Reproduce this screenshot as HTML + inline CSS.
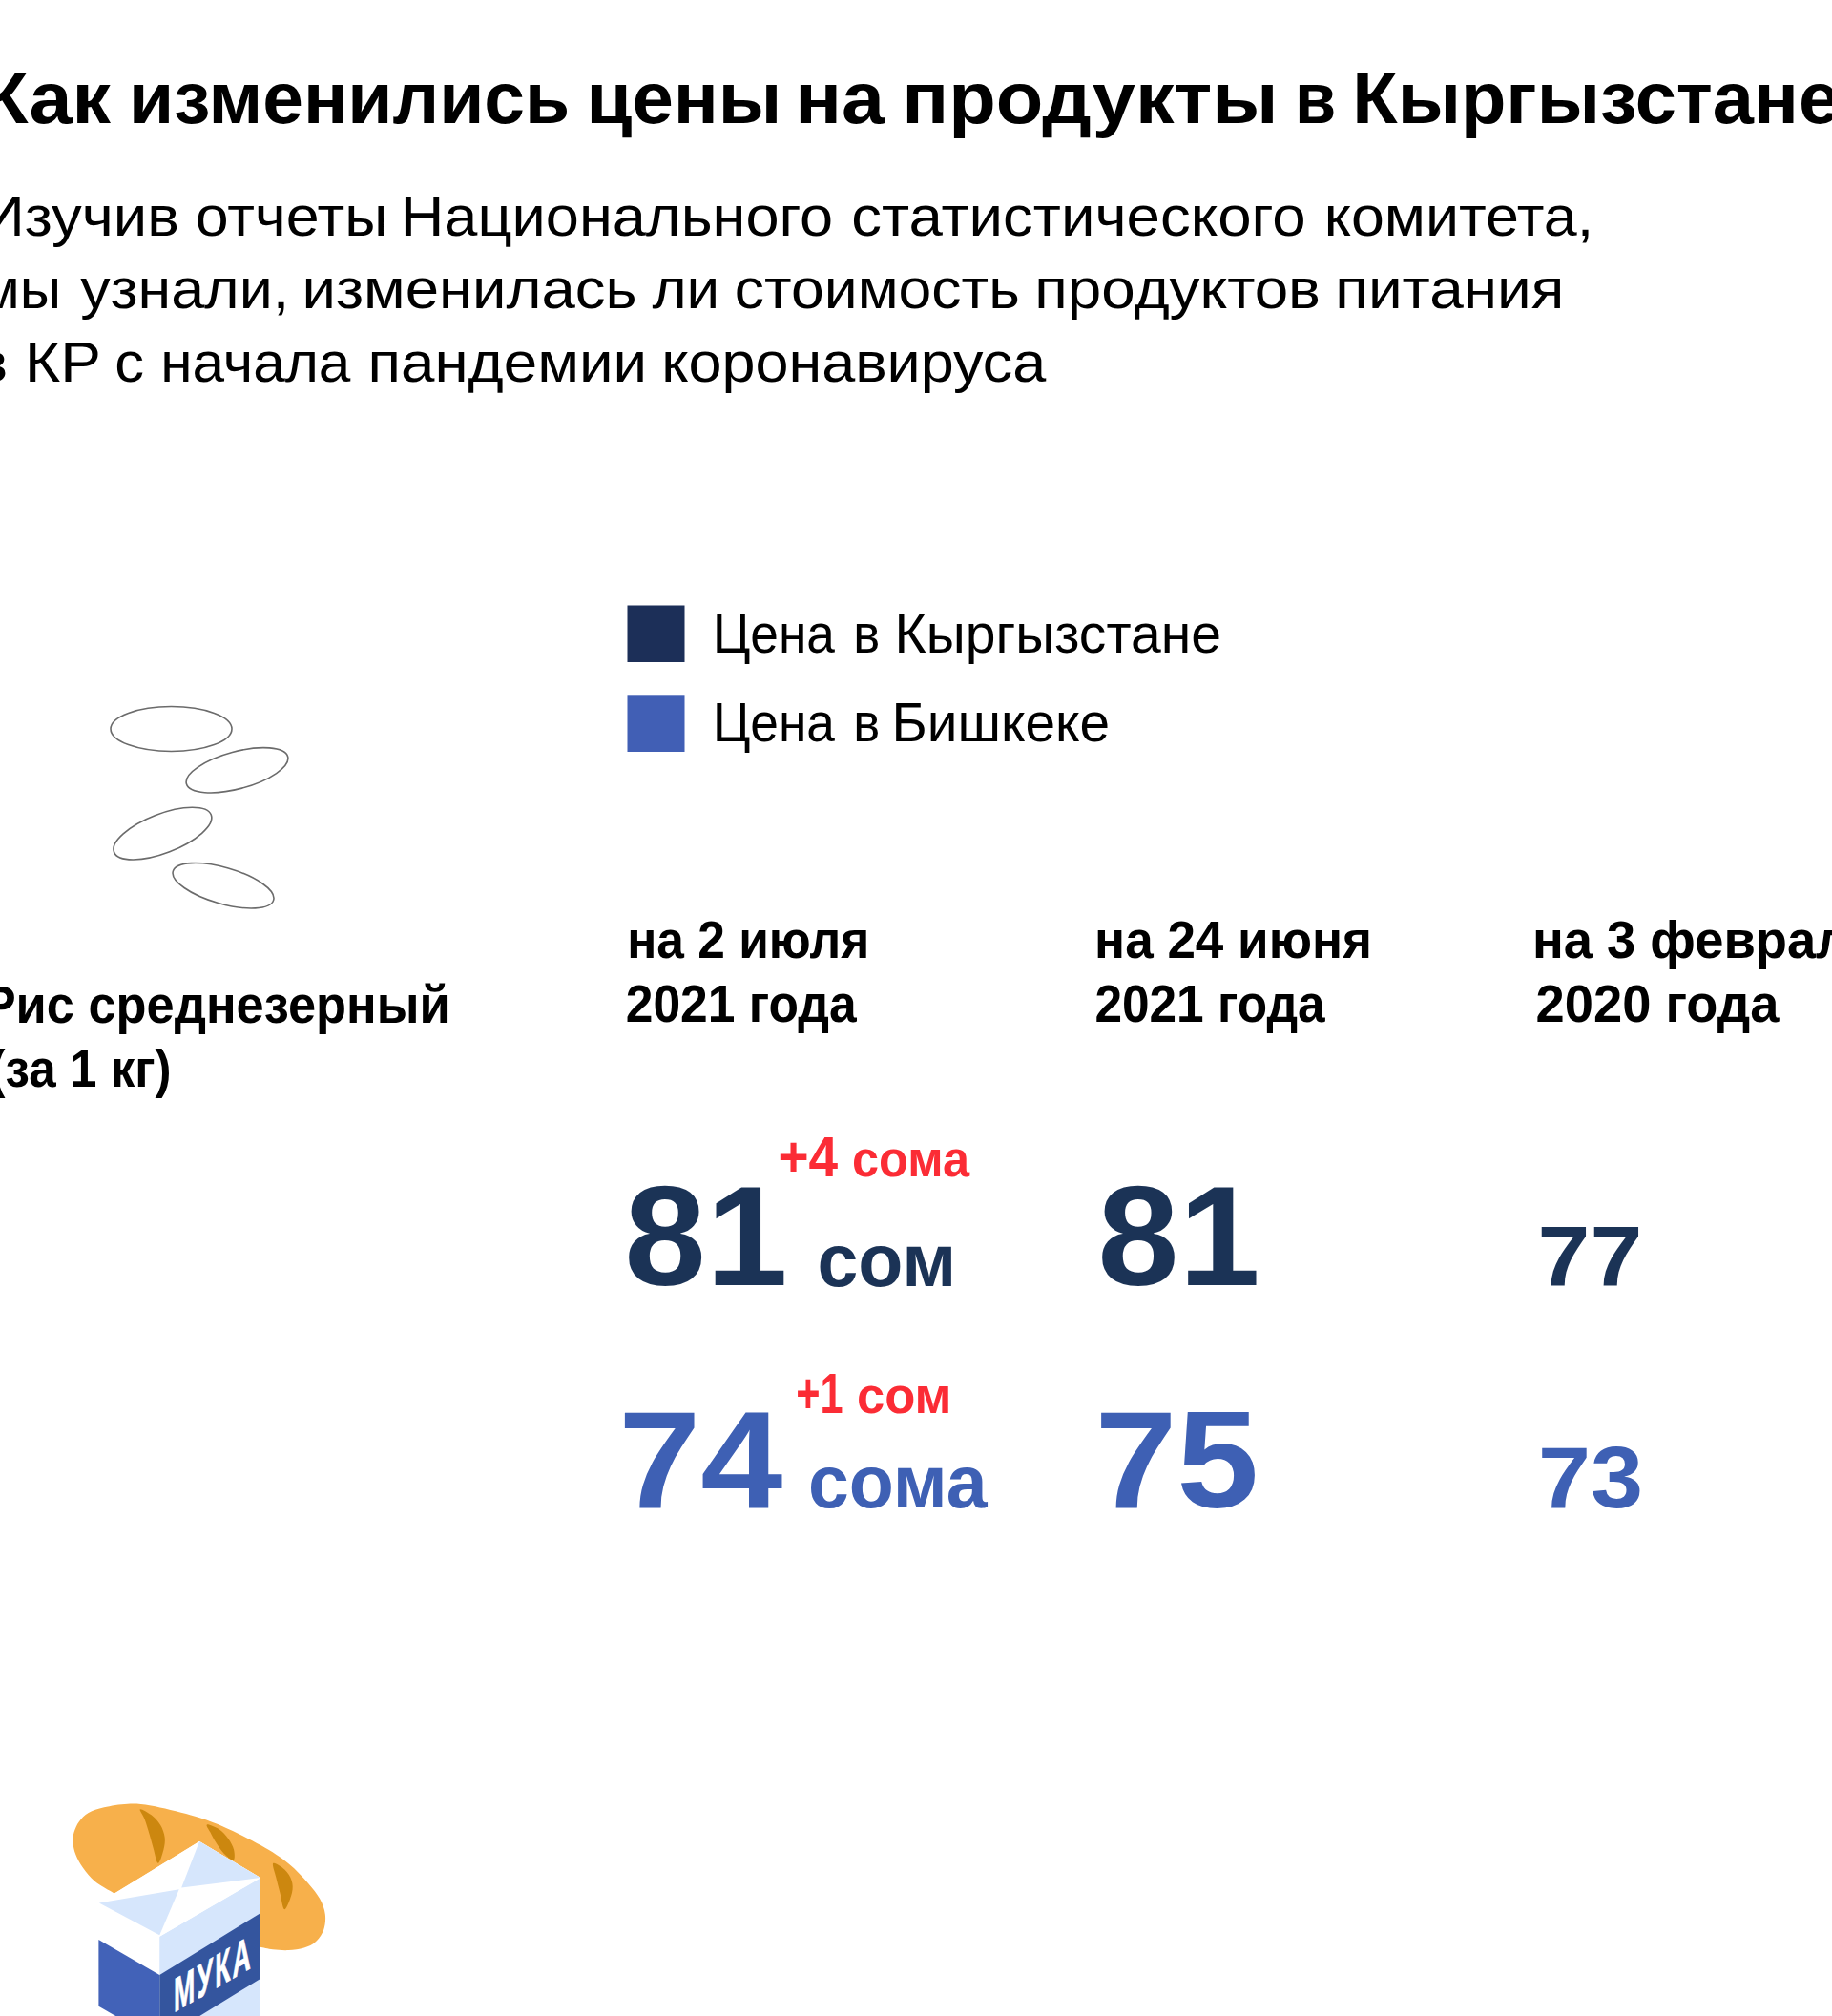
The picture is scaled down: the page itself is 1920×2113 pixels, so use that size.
<!DOCTYPE html>
<html><head><meta charset="utf-8"><style>
html,body{margin:0;padding:0;background:#fff;}
body{width:1920px;height:2113px;overflow:hidden;position:relative;}
svg{position:absolute;left:0;top:0;}
text{font-family:"Liberation Sans",sans-serif;}
</style></head><body>
<svg width="1920" height="2113" viewBox="0 0 1920 2113">
<rect x="657.5" y="634.5" width="60" height="59.5" fill="#1c2f58"/>
<rect x="657.5" y="728.3" width="60" height="59.7" fill="#415fb5"/>
<g fill="none" stroke="#6b6b6b" stroke-width="1.6">
<ellipse cx="179.5" cy="764" rx="63.5" ry="23.5"/>
<ellipse cx="248.5" cy="807.3" rx="55" ry="19.5" transform="rotate(-15 248.5 807.3)"/>
<ellipse cx="170.4" cy="873.6" rx="54.5" ry="20.5" transform="rotate(-21 170.4 873.6)"/>
<ellipse cx="234" cy="928.25" rx="54.8" ry="19" transform="rotate(16 234 928.25)"/>
</g>
<g transform="translate(60,1880) scale(0.163747)">
<path d="M360,635 C340.0,622.5 272.5,586.7 240,560 C207.5,533.3 185.3,503.3 165,475 C144.7,446.7 128.8,417.5 118,390 C107.2,362.5 101.7,334.2 100,310 C98.3,285.8 101.3,267.0 108,245 C114.7,223.0 124.7,198.5 140,178 C155.3,157.5 173.3,137.2 200,122 C226.7,106.8 258.3,96.5 300,87 C341.7,77.5 400.0,66.8 450,65 C500.0,63.2 532.5,64.0 600,76 C667.5,88.0 779.2,115.2 855,137 C930.8,158.8 980.0,174.5 1055,207 C1130.0,239.5 1234.2,292.0 1305,332 C1375.8,372.0 1430.0,407.0 1480,447 C1530.0,487.0 1571.7,534.5 1605,572 C1638.3,609.5 1661.7,638.7 1680,672 C1698.3,705.3 1710.8,738.7 1715,772 C1719.2,805.3 1715.0,842.8 1705,872 C1695.0,901.2 1675.8,927.8 1655,947 C1634.2,966.2 1609.2,977.8 1580,987 C1550.8,996.2 1513.3,1000.3 1480,1002 C1446.7,1003.7 1410.0,1000.3 1380,997 C1350.0,993.7 1313.3,984.5 1300,982 L1000,880 Z" fill="#f7b04b"/>
<path d="M530,100 C536.7,95.0 578.3,118.3 600,135 C621.7,151.7 645.3,175.8 660,200 C674.7,224.2 684.7,253.3 688,280 C691.3,306.7 687.2,332.5 680,360 C672.8,387.5 655.8,446.7 645,445 C634.2,443.3 624.2,380.8 615,350 C605.8,319.2 599.2,290.8 590,260 C580.8,229.2 570.0,191.7 560,165 C550.0,138.3 523.3,105.0 530,100 Z" fill="#cc870f"/>
<path d="M958,198 C967.2,194.7 1012.2,213.0 1035,228 C1057.8,243.0 1079.2,266.3 1095,288 C1110.8,309.7 1124.5,335.2 1130,358 C1135.5,380.8 1138.3,420.5 1128,425 C1117.7,429.5 1086.8,403.8 1068,385 C1049.2,366.2 1029.7,334.8 1015,312 C1000.3,289.2 989.5,267.0 980,248 C970.5,229.0 948.8,201.3 958,198 Z" fill="#cc870f"/>
<path d="M1382,445 C1391.2,436.7 1435.3,466.7 1455,485 C1474.7,503.3 1492.2,530.0 1500,555 C1507.8,580.0 1509.5,604.2 1502,635 C1494.5,665.8 1467.8,740.5 1455,740 C1442.2,739.5 1434.2,666.2 1425,632 C1415.8,597.8 1407.2,566.2 1400,535 C1392.8,503.8 1372.8,453.3 1382,445 Z" fill="#cc870f"/>
<polygon points="910,305 1300,538 1300,1500 265,1500 265,700" fill="#ffffff"/>
<polygon points="265,935 655,1160 655,1585 265,1360" fill="#4262b8"/>
<polygon points="655,915 1300,540 1300,1500 655,1500" fill="#d6e6fc"/>
<polygon points="655,1160 1300,765 1300,1185 655,1580" fill="#34559e"/>
<polygon points="910,305 1300,538 655,915 268,700" fill="#ffffff"/>
<polygon points="910,305 1300,538 795,602" fill="#d6e6fc"/>
<polygon points="268,700 780,612 655,905" fill="#d6e6fc"/>
</g>
<text transform="translate(182,2109.5) skewY(-30)" font-size="50" font-weight="bold" fill="#fff" stroke="#fff" stroke-width="0.8" letter-spacing="4" textLength="83" lengthAdjust="spacingAndGlyphs">МУКА</text>
<text x="-19.80" y="128.75" font-size="76" font-weight="bold" fill="#000000" textLength="135.84" lengthAdjust="spacingAndGlyphs">Как</text>
<text x="135.03" y="128.75" font-size="76" font-weight="bold" fill="#000000" textLength="462.21" lengthAdjust="spacingAndGlyphs">изменились</text>
<text x="614.55" y="128.75" font-size="76" font-weight="bold" fill="#000000" textLength="204.83" lengthAdjust="spacingAndGlyphs">цены</text>
<text x="833.35" y="128.75" font-size="76" font-weight="bold" fill="#000000" textLength="93.64" lengthAdjust="spacingAndGlyphs">на</text>
<text x="945.32" y="128.75" font-size="76" font-weight="bold" fill="#000000" textLength="394.28" lengthAdjust="spacingAndGlyphs">продукты</text>
<text x="1357.08" y="128.75" font-size="76" font-weight="bold" fill="#000000" textLength="43.22" lengthAdjust="spacingAndGlyphs">в</text>
<text x="1417.26" y="128.75" font-size="76" font-weight="bold" fill="#000000" textLength="510.81" lengthAdjust="spacingAndGlyphs">Кыргызстане</text>
<text x="-19.83" y="246.70" font-size="60" font-weight="normal" fill="#000" textLength="207.69" lengthAdjust="spacingAndGlyphs">Изучив</text>
<text x="204.83" y="246.70" font-size="60" font-weight="normal" fill="#000" textLength="201.48" lengthAdjust="spacingAndGlyphs">отчеты</text>
<text x="419.79" y="246.70" font-size="60" font-weight="normal" fill="#000" textLength="453.42" lengthAdjust="spacingAndGlyphs">Национального</text>
<text x="892.30" y="246.70" font-size="60" font-weight="normal" fill="#000" textLength="476.42" lengthAdjust="spacingAndGlyphs">статистического</text>
<text x="1387.77" y="246.70" font-size="60" font-weight="normal" fill="#000" textLength="282.40" lengthAdjust="spacingAndGlyphs">комитета,</text>
<text x="-20.71" y="322.50" font-size="60" font-weight="normal" fill="#000" textLength="84.86" lengthAdjust="spacingAndGlyphs">мы</text>
<text x="84.34" y="322.50" font-size="60" font-weight="normal" fill="#000" textLength="218.83" lengthAdjust="spacingAndGlyphs">узнали,</text>
<text x="316.56" y="322.50" font-size="60" font-weight="normal" fill="#000" textLength="351.04" lengthAdjust="spacingAndGlyphs">изменилась</text>
<text x="683.44" y="322.50" font-size="60" font-weight="normal" fill="#000" textLength="70.81" lengthAdjust="spacingAndGlyphs">ли</text>
<text x="769.84" y="322.50" font-size="60" font-weight="normal" fill="#000" textLength="298.97" lengthAdjust="spacingAndGlyphs">стоимость</text>
<text x="1084.28" y="322.50" font-size="60" font-weight="normal" fill="#000" textLength="299.76" lengthAdjust="spacingAndGlyphs">продуктов</text>
<text x="1399.27" y="322.50" font-size="60" font-weight="normal" fill="#000" textLength="240.14" lengthAdjust="spacingAndGlyphs">питания</text>
<text x="-25.72" y="399.50" font-size="60" font-weight="normal" fill="#000" textLength="131.55" lengthAdjust="spacingAndGlyphs">в КР</text>
<text x="120.38" y="399.50" font-size="60" font-weight="normal" fill="#000" textLength="30.81" lengthAdjust="spacingAndGlyphs">с</text>
<text x="168.28" y="399.50" font-size="60" font-weight="normal" fill="#000" textLength="199.14" lengthAdjust="spacingAndGlyphs">начала</text>
<text x="385.54" y="399.50" font-size="60" font-weight="normal" fill="#000" textLength="292.58" lengthAdjust="spacingAndGlyphs">пандемии</text>
<text x="693.25" y="399.50" font-size="60" font-weight="normal" fill="#000" textLength="402.91" lengthAdjust="spacingAndGlyphs">коронавируса</text>
<text x="746.96" y="684.00" font-size="57" font-weight="normal" fill="#000" textLength="128.01" lengthAdjust="spacingAndGlyphs">Цена</text>
<text x="894.31" y="684.00" font-size="57" font-weight="normal" fill="#000" textLength="27.99" lengthAdjust="spacingAndGlyphs">в</text>
<text x="937.51" y="684.00" font-size="57" font-weight="normal" fill="#000" textLength="342.40" lengthAdjust="spacingAndGlyphs">Кыргызстане</text>
<text x="746.96" y="776.50" font-size="57" font-weight="normal" fill="#000" textLength="128.01" lengthAdjust="spacingAndGlyphs">Цена</text>
<text x="894.31" y="776.50" font-size="57" font-weight="normal" fill="#000" textLength="27.99" lengthAdjust="spacingAndGlyphs">в</text>
<text x="934.58" y="776.50" font-size="57" font-weight="normal" fill="#000" textLength="228.49" lengthAdjust="spacingAndGlyphs">Бишкеке</text>
<text x="657.29" y="1004.25" font-size="56" font-weight="bold" fill="#000" textLength="253.94" lengthAdjust="spacingAndGlyphs">на 2 июля</text>
<text x="655.71" y="1071.25" font-size="56" font-weight="bold" fill="#000" textLength="242.08" lengthAdjust="spacingAndGlyphs">2021 года</text>
<text x="1147.12" y="1004.25" font-size="56" font-weight="bold" fill="#000" textLength="290.87" lengthAdjust="spacingAndGlyphs">на 24 июня</text>
<text x="1147.39" y="1071.25" font-size="56" font-weight="bold" fill="#000" textLength="241.26" lengthAdjust="spacingAndGlyphs">2021 года</text>
<text x="1605.91" y="1004.25" font-size="56" font-weight="bold" fill="#000" textLength="363.52" lengthAdjust="spacingAndGlyphs">на 3 февраля</text>
<text x="1609.50" y="1071.25" font-size="56" font-weight="bold" fill="#000" textLength="255.02" lengthAdjust="spacingAndGlyphs">2020 года</text>
<text x="-18.36" y="1072.30" font-size="56" font-weight="bold" fill="#000" textLength="490.01" lengthAdjust="spacingAndGlyphs">Рис среднезерный</text>
<text x="-11.49" y="1139.00" font-size="56" font-weight="bold" fill="#000" textLength="191.06" lengthAdjust="spacingAndGlyphs">(за 1 кг)</text>
<text x="654.36" y="1347.00" font-size="148" font-weight="bold" fill="#1b3356" textLength="171.14" lengthAdjust="spacingAndGlyphs">81</text>
<text x="1150.34" y="1347.00" font-size="148" font-weight="bold" fill="#1b3356" textLength="170.54" lengthAdjust="spacingAndGlyphs">81</text>
<text x="1611.59" y="1347.00" font-size="89" font-weight="bold" fill="#1b3356" textLength="109.76" lengthAdjust="spacingAndGlyphs">77</text>
<text x="648.33" y="1580.00" font-size="144" font-weight="bold" fill="#3e60b4" textLength="172.04" lengthAdjust="spacingAndGlyphs">74</text>
<text x="1147.41" y="1580.00" font-size="144" font-weight="bold" fill="#3e60b4" textLength="171.83" lengthAdjust="spacingAndGlyphs">75</text>
<text x="1611.93" y="1580.00" font-size="91" font-weight="bold" fill="#3e60b4" textLength="110.06" lengthAdjust="spacingAndGlyphs">73</text>
<text x="856.42" y="1348.00" font-size="77" font-weight="bold" fill="#1b3356" textLength="145.94" lengthAdjust="spacingAndGlyphs">сом</text>
<text x="846.92" y="1580.00" font-size="77" font-weight="bold" fill="#3e60b4" textLength="187.58" lengthAdjust="spacingAndGlyphs">сома</text>
<text x="815.38" y="1233.00" font-size="59" font-weight="bold" fill="#fb2c35" textLength="62.68" lengthAdjust="spacingAndGlyphs">+4</text>
<text x="892.98" y="1233.00" font-size="54" font-weight="bold" fill="#fb2c35" textLength="123.03" lengthAdjust="spacingAndGlyphs">сома</text>
<text x="834.31" y="1481.00" font-size="59" font-weight="bold" fill="#fb2c35" textLength="49.43" lengthAdjust="spacingAndGlyphs">+1</text>
<text x="897.90" y="1481.00" font-size="54" font-weight="bold" fill="#fb2c35" textLength="99.58" lengthAdjust="spacingAndGlyphs">сом</text>
</svg>
</body></html>
